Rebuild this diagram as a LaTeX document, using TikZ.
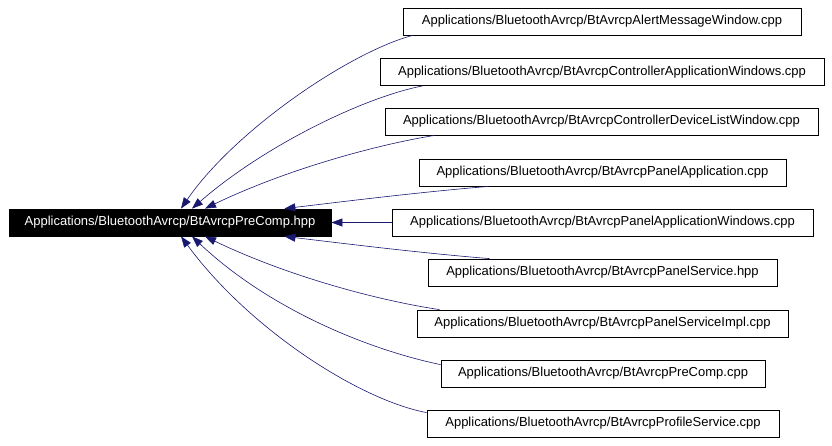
\documentclass[tikz,border=0pt]{standalone}
\usepackage{fontspec}
\setmainfont{Liberation Sans}
\usetikzlibrary{arrows.meta}
\definecolor{edgeblue}{HTML}{191970}
\tikzset{
  file/.style={draw=black, fill=white, line width=0.8pt, minimum height=27pt,
    inner sep=0pt, font=\fontsize{13}{15}\selectfont},
  focus/.style={file, fill=black, text=white},
  dep/.style={edgeblue, line width=0.6pt, -{Triangle[length=11pt,width=8pt]}}
}
\begin{document}
\begin{tikzpicture}[x=1pt,y=-1pt]
    \useasboundingbox (0,0) rectangle (832,445);

    \node[focus, minimum width=322pt] (precomp) at (170,222.5) {Applications/BluetoothAvrcp/BtAvrcpPreComp.hpp};

    \node[file, minimum width=398pt] (alert)   at (602,21.5)  {Applications/BluetoothAvrcp/BtAvrcpAlertMessageWindow.cpp};
    \node[file, minimum width=444pt] (ctrlapp) at (602,72)    {Applications/BluetoothAvrcp/BtAvrcpControllerApplicationWindows.cpp};
    \node[file, minimum width=433pt] (ctrldev) at (601.5,121.5) {Applications/BluetoothAvrcp/BtAvrcpControllerDeviceListWindow.cpp};
    \node[file, minimum width=367pt] (panelapp) at (602.5,172.5) {Applications/BluetoothAvrcp/BtAvrcpPanelApplication.cpp};
    \node[file, minimum width=421pt] (panelwin) at (602.5,222.5) {Applications/BluetoothAvrcp/BtAvrcpPanelApplicationWindows.cpp};
    \node[file, minimum width=349pt] (panelsrv) at (602.5,272.5) {Applications/BluetoothAvrcp/BtAvrcpPanelService.hpp};
    \node[file, minimum width=371pt] (panelimpl) at (602.5,323.5) {Applications/BluetoothAvrcp/BtAvrcpPanelServiceImpl.cpp};
    \node[file, minimum width=324pt] (precompcpp) at (603,373.5) {Applications/BluetoothAvrcp/BtAvrcpPreComp.cpp};
    \node[file, minimum width=352pt] (profile) at (603,423.5) {Applications/BluetoothAvrcp/BtAvrcpProfileService.cpp};

    % incoming edges, upper half
    \draw[dep] ([xshift=10pt]alert.south west) .. controls (350,52) and (235,130) .. ([xshift=11pt]precomp.north);
    \draw[dep] ([xshift=43pt]ctrlapp.south west) .. controls (365,97) and (265,145) .. ([xshift=22pt]precomp.north);
    \draw[dep] ([xshift=50pt]ctrldev.south west) .. controls (375,145) and (285,170) .. ([xshift=35pt]precomp.north);
    \draw[dep] ([xshift=70pt]panelapp.south west) .. controls (420,192) and (340,202) .. ([xshift=-47pt]precomp.north east);

    \draw[dep] (panelwin) -- (precomp);

    % incoming edges, lower half
    \draw[dep] ([xshift=62pt]panelsrv.north west) .. controls (420,253) and (340,243) .. ([xshift=-47pt]precomp.south east);
    \draw[dep] ([xshift=23pt]panelimpl.north west) .. controls (375,300) and (285,275) .. ([xshift=35pt]precomp.south);
    \draw[dep] ([yshift=-5pt]precompcpp.north west) .. controls (370,350) and (270,310) .. ([xshift=22pt]precomp.south);
    \draw[dep] ([yshift=-3pt]profile.north west) .. controls (360,400) and (250,330) .. ([xshift=11pt]precomp.south);
\end{tikzpicture}
\end{document}
